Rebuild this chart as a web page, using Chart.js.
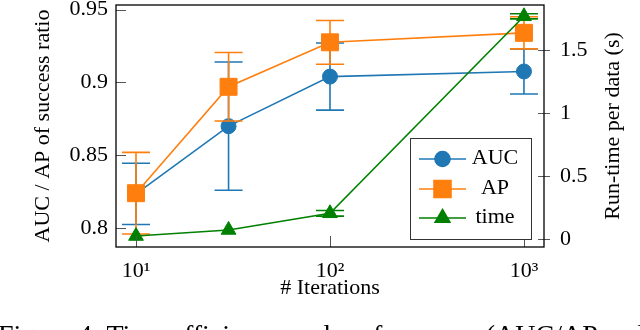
<!DOCTYPE html>
<html>
<head>
<meta charset="utf-8">
<script src="https://cdn.jsdelivr.net/npm/chart.js@4.4.0/dist/chart.umd.min.js"></script>
<style>
  html, body { margin: 0; padding: 0; background: #fff; }
  #wrap { position: relative; width: 640px; height: 330px; overflow: hidden; }
  #caption {
    position: absolute; left: -2px; top: 319px; white-space: nowrap;
    font: 28px "Liberation Serif", "DejaVu Serif", serif; color: #000;
  }
</style>
</head>
<body>
<div id="wrap">
  <canvas id="chart" width="640" height="330"></canvas>
  <div id="caption">Figure 4: Time efficiency and performance (AUC/AP and</div>
</div>
<script>
  // data
  const iterations = [10, 30, 100, 1000];
  const aucMean = [0.8235, 0.870, 0.904, 0.9075];
  const aucErr = [0.021, 0.044, 0.023, 0.0155];
  const apMean = [0.824, 0.897, 0.9275, 0.934];
  const apErr = [0.028, 0.0235, 0.015, 0.011];
  const timeMean = [0.026, 0.074, 0.206, 1.767];
  const timeErr = [0, 0, 0.022, 0.02];

  const xTicks = [10, 100, 1000];
  const xTickLabels = ["10¹", "10²", "10³"];
  const leftTicks = [0.8, 0.85, 0.9, 0.95];
  const rightTicks = [0, 0.5, 1, 1.5];

  const blue = "#1f77b4";
  const orange = "#ff7f0e";
  const green = "#008000";
  const serif = '"Liberation Serif", "DejaVu Serif", serif';

  Chart.defaults.color = "#000";

  function punktok(means) {
    return iterations.map((x, i) => ({ x: x, y: means[i] }));
  }

  function sorozat(label, means, errs, color, style, radius, axis, order) {
    return {
      label: label,
      data: punktok(means),
      errs: errs,
      yAxisID: axis,
      borderColor: color,
      backgroundColor: color,
      borderWidth: 1.6,
      pointStyle: style,
      pointRadius: radius,
      pointBorderColor: color,
      pointBackgroundColor: color,
      pointBorderWidth: 1,
      tension: 0,
      order: order
    };
  }

  // fixed axis sizes, no extra label padding
  function meret(w, h) {
    return s => {
      if (w) s.width = w;
      if (h) s.height = h;
      s.paddingTop = 0; s.paddingBottom = 0;
      s.paddingLeft = 0; s.paddingRight = 0;
    };
  }

  // error bars, frame, inward ticks, legend and right title
  const rajzolo = {
    id: "rajzolo",
    afterDatasetDraw(chart, args) {
      const ds = chart.data.datasets[args.index];
      const ctx = chart.ctx;
      const xs = chart.scales.x;
      const ys = chart.scales[ds.yAxisID];
      ctx.save();
      ctx.strokeStyle = ds.borderColor;
      ctx.lineWidth = 1.6;
      iterations.forEach((it, i) => {
        if (!ds.errs[i]) return;
        const x = xs.getPixelForValue(it);
        const m = ds.data[i].y;
        const top = ys.getPixelForValue(m + ds.errs[i]);
        const bot = ys.getPixelForValue(m - ds.errs[i]);
        ctx.beginPath();
        ctx.moveTo(x, top); ctx.lineTo(x, bot);
        ctx.moveTo(x - 14, top); ctx.lineTo(x + 14, top);
        ctx.moveTo(x - 14, bot); ctx.lineTo(x + 14, bot);
        ctx.stroke();
      });
      ctx.restore();
    },
    afterDraw(chart) {
      const ctx = chart.ctx;
      const a = chart.chartArea;
      const xs = chart.scales.x, yl = chart.scales.y, yr = chart.scales.y1;
      ctx.save();
      // ticks
      ctx.strokeStyle = "#555";
      ctx.lineWidth = 1;
      ctx.beginPath();
      leftTicks.forEach(v => {
        const y = Math.round(yl.getPixelForValue(v)) + 0.5;
        ctx.moveTo(a.left, y); ctx.lineTo(a.left + 10, y);
      });
      rightTicks.forEach(v => {
        const y = Math.round(yr.getPixelForValue(v)) + 0.5;
        ctx.moveTo(a.right - 6, y); ctx.lineTo(a.right + 6, y);
      });
      xTicks.forEach(v => {
        const x = Math.round(xs.getPixelForValue(v)) + 0.5;
        ctx.moveTo(x, a.bottom); ctx.lineTo(x, a.bottom - 11);
      });
      ctx.stroke();
      // frame
      ctx.strokeStyle = "#000";
      ctx.lineWidth = 1.3;
      ctx.strokeRect(a.left, a.top, a.right - a.left, a.bottom - a.top);

      // legend
      const lx = 410, ly = 138, lw = 121, lh = 101;
      ctx.fillStyle = "#fff";
      ctx.fillRect(lx, ly, lw, lh);
      ctx.strokeStyle = "#333";
      ctx.lineWidth = 1;
      ctx.strokeRect(lx + 0.5, ly + 0.5, lw, lh);
      const sorok = [159, 189, 218];
      ctx.font = "22px " + serif;
      ctx.textAlign = "center";
      ctx.textBaseline = "middle";
      chart.data.datasets.forEach((ds, i) => {
        const y = sorok[i];
        ctx.strokeStyle = ds.borderColor;
        ctx.lineWidth = 1.6;
        ctx.beginPath();
        ctx.moveTo(419, y); ctx.lineTo(466, y);
        ctx.stroke();
        ctx.fillStyle = ds.borderColor;
        Chart.helpers.drawPoint(ctx, {
          pointStyle: ds.pointStyle, radius: ds.pointRadius, borderWidth: 1, rotation: 0
        }, 442.5, y);
        ctx.fill();
        ctx.fillStyle = "#000";
        ctx.fillText(ds.label, 495, y - 1);
      });

      // right axis title, reading upwards
      ctx.translate(613, (a.top + a.bottom) / 2);
      ctx.rotate(-Math.PI / 2);
      ctx.fillStyle = "#000";
      ctx.fillText("Run-time per data (s)", 0, 0);
      ctx.restore();
    }
  };

  const ctx = document.getElementById("chart").getContext("2d");
  new Chart(ctx, {
    type: "line",
    data: {
      datasets: [
        sorozat("AUC", aucMean, aucErr, blue, "circle", 7.5, "y", 3),
        sorozat("AP", apMean, apErr, orange, "rect", 12, "y", 2),
        sorozat("time", timeMean, timeErr, green, "triangle", 8.5, "y1", 1)
      ]
    },
    options: {
      responsive: false,
      animation: false,
      layout: { autoPadding: false, padding: { top: 5, left: 0, right: 0, bottom: 0 } },
      plugins: { legend: { display: false }, tooltip: { enabled: false } },
      scales: {
        x: {
          type: "logarithmic",
          min: 7.886,
          max: 1268.5,
          grid: { display: false, drawTicks: false },
          border: { display: false },
          afterBuildTicks: s => { s.ticks = xTicks.map(v => ({ value: v })); },
          afterFit: meret(0, 83),
          ticks: {
            autoSkip: false, maxRotation: 0, padding: 11,
            font: { family: serif, size: 22 },
            callback: v => xTickLabels[xTicks.indexOf(v)]
          },
          title: {
            display: true, text: "# Iterations",
            font: { family: serif, size: 22 },
            padding: { top: 0, bottom: 29 }
          }
        },
        y: {
          position: "left",
          min: 0.7871,
          max: 0.9531,
          grid: { display: false, drawTicks: false },
          border: { display: false },
          afterBuildTicks: s => { s.ticks = leftTicks.map(v => ({ value: v })); },
          afterFit: meret(116, 0),
          ticks: {
            padding: 8,
            font: { family: serif, size: 22 },
            callback: v => String(Number(v.toFixed(2)))
          },
          title: {
            display: true, text: "AUC / AP of success ratio",
            font: { family: serif, size: 22 },
            padding: { top: 30, bottom: 0 }
          }
        },
        y1: {
          position: "right",
          min: -0.061,
          max: 1.8566,
          grid: { display: false, drawTicks: false },
          border: { display: false },
          afterBuildTicks: s => { s.ticks = rightTicks.map(v => ({ value: v })); },
          afterFit: meret(96, 0),
          ticks: {
            padding: 16,
            font: { family: serif, size: 22 },
            callback: v => String(v)
          }
        }
      }
    },
    plugins: [rajzolo]
  });
</script>
</body>
</html>
